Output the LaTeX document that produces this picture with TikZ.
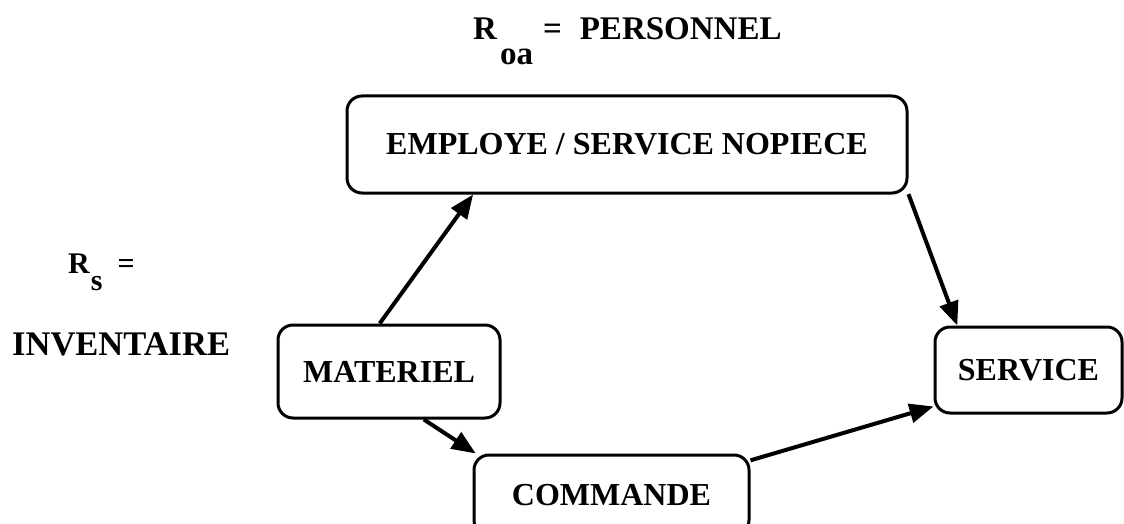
\documentclass[tikz,border=0pt]{standalone}
\usepackage{fontspec}
\setmainfont{Liberation Serif}
\usetikzlibrary{arrows.meta}
\tikzset{
  entity/.style = {rectangle, rounded corners=15pt, draw, line width=3pt,
                   inner sep=0pt, align=center,
                   font=\fontsize{32}{38}\selectfont\bfseries},
  link/.style   = {-{Triangle[length=24pt, width=19pt]}, line width=4pt},
  relname/.style = {inner sep=0pt, anchor=base west}
}

\begin{document}
\begin{tikzpicture}[x=1pt, y=-1pt]
  \useasboundingbox (0,0) rectangle (1124,524);

  % relations
  \node (emp)  [entity, minimum width=560pt, minimum height=97pt] at (627,144.5) {EMPLOYE / SERVICE NOPIECE};
  \node (mat)  [entity, minimum width=222pt, minimum height=93pt] at (389,371.5) {MATERIEL};
  \node (serv) [entity, minimum width=187pt, minimum height=86pt] at (1028.5,370) {SERVICE};
  \node (com)  [entity, minimum width=275pt, minimum height=80pt] at (611.5,495) {COMMANDE};

  % noms des relations
  \node (roa) [relname, font=\fontsize{33}{40}\selectfont\bfseries] at (473,40)
    {R\hspace{3pt}\raisebox{-25pt}{oa}\hspace{10pt}=\hspace{18pt}PERSONNEL};
  \node (rs)  [relname, font=\fontsize{30}{36}\selectfont\bfseries] at (68,273)
    {R\hspace{1pt}\raisebox{-17pt}{s}\hspace{15pt}=};
  \node (inv) [relname, font=\fontsize{34.5}{40}\selectfont\bfseries] at (12,355) {INVENTAIRE};

  % liens
  \draw[link] (mat.101) -- (emp.198);
  \draw[link] (emp.-10) -- (serv.148);
  \draw[link] (mat.-54) -- (com.163);
  \draw[link] (com.14)  -- (serv.201);
\end{tikzpicture}
\end{document}
